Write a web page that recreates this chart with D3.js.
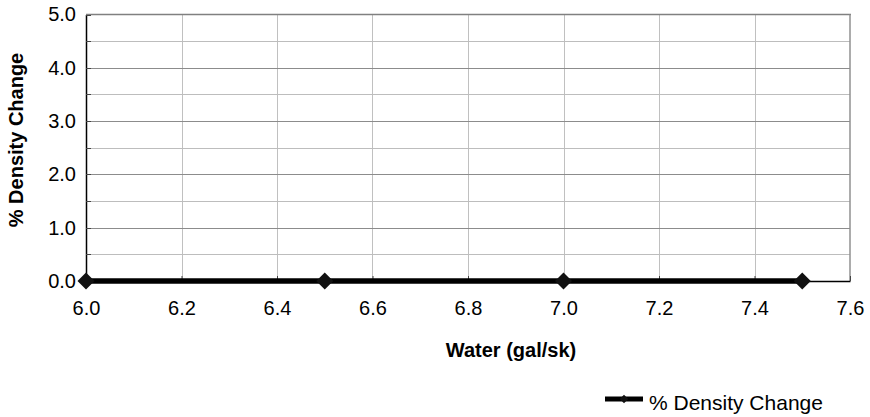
<!DOCTYPE html>
<html><head><meta charset="utf-8">
<script src="https://cdn.jsdelivr.net/npm/d3@7"></script>
<style>body{margin:0;background:#fff;} svg{display:block;font-family:"Liberation Sans",Arial,sans-serif;}</style>
</head><body>
<svg id="c" width="870" height="417"></svg>
<script>
const water = [6.0, 6.5, 7.0, 7.5];
const densityChange = [0, 0, 0, 0];
const xTicks = [6.0, 6.2, 6.4, 6.6, 6.8, 7.0, 7.2, 7.4, 7.6];
const yTicks = [0, 1, 2, 3, 4, 5];
const yMinor = [0.5, 1.5, 2.5, 3.5, 4.5];
const seriesName = "% Density Change";

const FF = "Liberation Sans, Arial, sans-serif";
const svg = d3.select("#c");
const L = 86, R = 850, T = 14.5, B = 281;
const x = d3.scaleLinear().domain([6.0, 7.6]).range([L, R]);
const y = d3.scaleLinear().domain([0, 5]).range([B, T]);

// vertical gridlines
svg.append("g").selectAll("line").data(xTicks.slice(1, -1)).join("line")
  .attr("x1", d => Math.round(x(d)) + 0.5).attr("x2", d => Math.round(x(d)) + 0.5)
  .attr("y1", T).attr("y2", B).attr("stroke", "#c0c0c0").attr("stroke-width", 1);
// horizontal minor
svg.append("g").selectAll("line").data(yMinor).join("line")
  .attr("x1", L).attr("x2", R).attr("y1", d => Math.round(y(d)) + 0.5).attr("y2", d => Math.round(y(d)) + 0.5)
  .attr("stroke", "#bdbdbd").attr("stroke-width", 1);
// horizontal major
svg.append("g").selectAll("line").data(yTicks.slice(1, -1)).join("line")
  .attr("x1", L).attr("x2", R).attr("y1", d => Math.round(y(d)) + 0.5).attr("y2", d => Math.round(y(d)) + 0.5)
  .attr("stroke", "#8c8c8c").attr("stroke-width", 1);
// top and right border
svg.append("line").attr("x1", L).attr("x2", R + 1).attr("y1", T).attr("y2", T).attr("stroke", "#808080").attr("stroke-width", 1.5);
svg.append("line").attr("x1", R).attr("x2", R).attr("y1", T).attr("y2", B).attr("stroke", "#909090").attr("stroke-width", 1.5);

// axes
const yAxis = d3.axisLeft(y).tickValues(yTicks).tickFormat(d3.format(".1f")).tickSize(0).tickPadding(10);
const gy = svg.append("g").attr("transform", `translate(${L},0)`).call(yAxis);
gy.attr("font-size", 20).attr("font-family", FF);
gy.select(".domain").attr("stroke", "#000").attr("stroke-width", 1.5);
gy.selectAll("text").attr("fill", "#000");

const xAxis = d3.axisBottom(x).tickValues(xTicks).tickFormat(d3.format(".1f")).tickSizeInner(-5).tickSizeOuter(0).tickPadding(20);
const gx = svg.append("g").attr("transform", `translate(0,${B})`).call(xAxis);
gx.attr("font-size", 20).attr("font-family", FF);
gx.select(".domain").attr("stroke", "#000").attr("stroke-width", 1.5);
gx.selectAll(".tick line").attr("stroke", "#444");
gx.selectAll("text").attr("fill", "#000");

// inner y ticks (major + minor)
svg.append("g").selectAll("line").data(yTicks.concat(yMinor)).join("line")
  .attr("x1", L).attr("x2", L + 5).attr("y1", d => Math.round(y(d)) + 0.5).attr("y2", d => Math.round(y(d)) + 0.5)
  .attr("stroke", "#444");

// data line
const pts = water.map((w, i) => [w, densityChange[i]]);
svg.append("path").datum(pts)
  .attr("d", d3.line().x(d => x(d[0])).y(d => y(d[1])))
  .attr("fill", "none").attr("stroke", "#000").attr("stroke-width", 5.5);
const diamond = d3.symbol().type(d3.symbolSquare).size(145);
svg.append("g").selectAll("path").data(pts).join("path")
  .attr("d", diamond)
  .attr("transform", d => `translate(${x(d[0])},${y(d[1])}) rotate(45)`)
  .attr("fill", "#111");

// axis titles
svg.append("text").attr("transform", "translate(23,140) rotate(-90)")
  .attr("text-anchor", "middle").attr("font-size", 20).attr("font-weight", "bold")
  .attr("font-family", FF).text("% Density Change");
svg.append("text").attr("x", 511).attr("y", 357)
  .attr("text-anchor", "middle").attr("font-size", 20).attr("font-weight", "bold")
  .attr("font-family", FF).text("Water (gal/sk)");

// legend
const lg = svg.append("g");
lg.append("line").attr("x1", 605).attr("x2", 643).attr("y1", 399).attr("y2", 399).attr("stroke", "#000").attr("stroke-width", 5);
lg.append("path").attr("d", d3.symbol().type(d3.symbolSquare).size(36)).attr("transform", "translate(624,399) rotate(45)").attr("fill", "#111");
lg.append("text").attr("x", 649).attr("y", 410).attr("font-size", 21).attr("font-family", FF).text(seriesName);
</script>
</body></html>
